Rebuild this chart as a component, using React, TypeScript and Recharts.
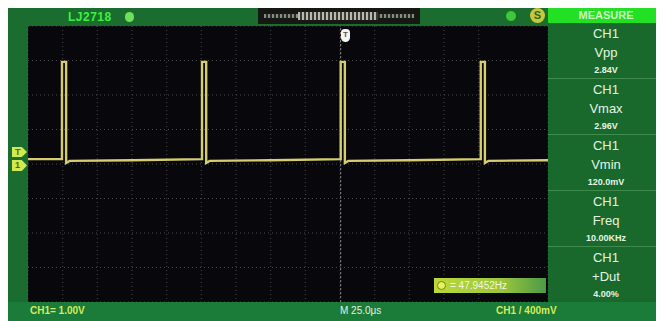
import React from 'react';
import { LineChart, Line, XAxis, YAxis, CartesianGrid, ReferenceLine } from 'recharts';

// waveform samples (time in µs, voltage in V)
const timeUs = [
  -225, -200.5, -200.5, -197.5, -197.5, -195, -150,
  -99.5, -99.5, -96.5, -96.5, -94, -50,
  0.5, 0.5, 3.5, 3.5, 6, 50,
  101.5, 101.5, 104.5, 104.5, 107, 150,
];
const volts = [
  0.14, 0.14, 2.96, 2.96, 0.03, 0.09, 0.11,
  0.14, 2.96, 2.96, 0.03, 0.09, 0.11,
  0.14, 2.96, 2.96, 0.03, 0.09, 0.11,
  0.14, 2.96, 2.96, 0.03, 0.09, 0.11,
];
const data = timeUs.map((t, i) => ({ t, v: volts[i] }));

const xTicks = [-225, -200, -175, -150, -125, -100, -75, -50, -25, 0, 25, 50, 75, 100, 125, 150];
const yTicks = [-4, -3, -2, -1, 0, 1, 2, 3, 4];
const triggerTime = 0.5;

const measureTitles = ['CH1', 'CH1', 'CH1', 'CH1', 'CH1'];
const measureNames = ['Vpp', 'Vmax', 'Vmin', 'Freq', '+Dut'];
const measureValues = ['2.84V', '2.96V', '120.0mV', '10.00KHz', '4.00%'];

const topLabel = 'LJ2718';
const headerLabel = 'MEASURE';
const bottomLeft = 'CH1= 1.00V';
const bottomMid = 'M 25.0\u03bcs';
const bottomRight = 'CH1 / 400mV';
const freqReadout = '= 47.9452Hz';

const FONT = '"Liberation Sans", "DejaVu Sans", Arial, sans-serif';

export default function App() {
  const abs = (s: React.CSSProperties): React.CSSProperties => ({ position: 'absolute', ...s });
  return (
    <div style={{ position: 'relative', width: 656, height: 314, marginTop: -1, background: '#1b6d2f', fontFamily: FONT, overflow: 'hidden' }}>
      {/* top bar */}
      <div style={abs({ left: 60, top: 2, height: 16, lineHeight: '16px', fontSize: 12, fontWeight: 700, color: '#3df03d', letterSpacing: 0.5 })}>{topLabel}</div>
      <div style={abs({ left: 117, top: 5, width: 9, height: 10, borderRadius: 5, background: '#6ee05a' })} />
      <div style={abs({ left: 250, top: 1, width: 162, height: 16, background: '#161814' })}>
        <div style={abs({ left: 6, top: 6, width: 150, height: 4, background: 'repeating-linear-gradient(90deg,#8a8a84 0 2px,#2a2a28 2px 4px)' })} />
        <div style={abs({ left: 40, top: 4, width: 80, height: 8, background: 'repeating-linear-gradient(90deg,#b8b8b0 0 2px,#3a3a36 2px 4px)' })} />
      </div>
      <div style={abs({ left: 497, top: 3, width: 12, height: 12, borderRadius: 6, background: '#3ec83e', border: '1px solid #1a6a1a', boxSizing: 'border-box' })} />
      <div style={abs({ left: 522, top: 1, width: 15, height: 15, borderRadius: 8, background: '#c8c83a', color: '#2a6a20', fontSize: 11, fontWeight: 700, textAlign: 'center', lineHeight: '15px' })}>S</div>

      {/* measure panel */}
      <div style={abs({ left: 540, top: 0, width: 116, height: 16, background: '#24e024', color: '#c8f8c0', fontSize: 11, fontWeight: 700, textAlign: 'center', lineHeight: '16px' })}>{headerLabel}</div>
      <div style={abs({ left: 540, top: 16, width: 116, height: 280, background: '#1a692c' })}>
        {measureNames.map((name, i) => (
          <div key={name} style={abs({ left: 0, top: i * 56, width: 116, height: 56, borderBottom: '1px solid #3f8a4c', boxSizing: 'border-box', color: '#e4f4e2', textAlign: 'center' })}>
            <div style={abs({ left: 0, width: 116, top: 3, fontSize: 13, lineHeight: '15px' })}>{measureTitles[i]}</div>
            <div style={abs({ left: 0, width: 116, top: 22, fontSize: 13, lineHeight: '15px' })}>{name}</div>
            <div style={abs({ left: 0, width: 116, top: 41, fontSize: 9, fontWeight: 700, lineHeight: '12px' })}>{measureValues[i]}</div>
          </div>
        ))}
      </div>

      {/* bottom bar */}
      <div style={abs({ left: 0, top: 295, width: 656, height: 19, background: '#1b7b38' })} />
      <div style={abs({ left: 22, top: 297, fontSize: 10, fontWeight: 700, lineHeight: '14px', color: '#d4ea5c' })}>{bottomLeft}</div>
      <div style={abs({ left: 332, top: 297, fontSize: 10, lineHeight: '14px', color: '#e4f0e0' })}>{bottomMid}</div>
      <div style={abs({ left: 488, top: 297, fontSize: 10, fontWeight: 700, lineHeight: '14px', color: '#d4ea5c' })}>{bottomRight}</div>

      {/* left markers */}
      <div style={abs({ left: 4, top: 140, width: 15, height: 10, background: '#d2ea4e', clipPath: 'polygon(0 0,65% 0,100% 50%,65% 100%,0 100%)', color: '#4a6a10', fontSize: 9, fontWeight: 700, lineHeight: '10px', paddingLeft: 3, boxSizing: 'border-box' })}>T</div>
      <div style={abs({ left: 4, top: 153, width: 15, height: 11, background: '#d2ea4e', clipPath: 'polygon(0 0,65% 0,100% 50%,65% 100%,0 100%)', color: '#4a6a10', fontSize: 9, fontWeight: 700, lineHeight: '11px', paddingLeft: 3, boxSizing: 'border-box' })}>1</div>

      {/* plot */}
      <div style={abs({ left: 20, top: 19, width: 520, height: 276, background: '#07070c' })}>
        <LineChart width={520} height={276} data={data} margin={{ top: 0, right: 0, bottom: 0, left: 0 }}>
          <XAxis type="number" dataKey="t" domain={[-225, 150]} ticks={xTicks} hide />
          <YAxis type="number" domain={[-4, 4]} ticks={yTicks} hide />
          <CartesianGrid stroke="#4a4a4a" strokeDasharray="1 3" strokeWidth={1} />
          <ReferenceLine x={triggerTime} stroke="#8a8a8a" strokeDasharray="2 2" />
          <Line type="linear" dataKey="v" stroke="#d6ce6e" strokeWidth={2.4} dot={false} isAnimationActive={false} />
        </LineChart>
        <div style={abs({ left: 313, top: 3, width: 9, height: 13, borderRadius: '4px 4px 5px 5px', background: '#f4f4f4', color: '#555', fontSize: 8, fontWeight: 700, textAlign: 'center', lineHeight: '12px' })}>T</div>
        <div style={abs({ left: 406, top: 252, width: 112, height: 15, background: 'linear-gradient(90deg,#bcd83a 0%,#9cc63c 60%,#4c9a48 100%)', color: '#f4f8d8', fontSize: 10, lineHeight: '15px', whiteSpace: 'nowrap' })}>
          <span style={{ display: 'inline-block', width: 9, height: 9, borderRadius: 5, background: '#e8f060', border: '1px solid #6a8a10', boxSizing: 'border-box', margin: '0 4px 0 3px', verticalAlign: '-1px' }} />
          {freqReadout}
        </div>
      </div>
    </div>
  );
}
